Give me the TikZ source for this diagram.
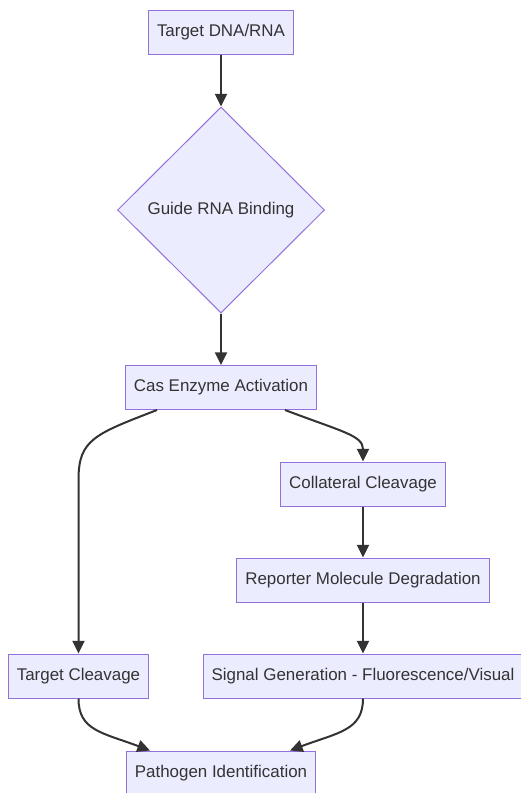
\documentclass[tikz,border=0pt]{standalone}
\usepackage{fontspec}
\setmainfont{Liberation Sans}
\usetikzlibrary{shapes.geometric,arrows.meta}

\newlength{\du}
\setlength{\du}{0.75pt}

\definecolor{boxfill}{HTML}{ECECFF}
\definecolor{boxline}{HTML}{9370DB}
\definecolor{inkcolor}{HTML}{333333}

\tikzset{
  box/.style={draw=boxline, fill=boxfill, line width=1\du, text=inkcolor,
    font=\fontsize{12.7pt}{15pt}\selectfont, inner xsep=8.5\du, inner ysep=0pt,
    minimum height=44\du},
  decision/.style={box, diamond, minimum width=207\du, minimum height=206\du, inner sep=0pt},
  edge/.style={draw=inkcolor, line width=2\du, -{Triangle[length=9.5pt,width=9pt]}},
}

\begin{document}
\begin{tikzpicture}[x=1\du, y=-1\du]
\useasboundingbox (0,0) rectangle (521,793);
% steps
\node[box] (target) at (221,32) {Target DNA/RNA};
\node[decision] (guide) at (221,210) {Guide RNA Binding};
\node[box] (cas) at (221,387.5) {Cas Enzyme Activation};
\node[box] (collateral) at (363,484) {Collateral Cleavage};
\node[box] (reporter) at (363,580) {Reporter Molecule Degradation};
\node[box] (cleavage) at (78.5,676) {Target Cleavage};
\node[box] (signal) at (363,676) {Signal Generation - Fluorescence/Visual};
\node[box] (pathogen) at (221,773) {Pathogen Identification};
% connectors
\draw[edge] (target) -- (guide);
\draw[edge] (guide) -- (cas);
\draw[edge] ([xshift=-64\du]cas.south) .. controls +(-62\du,-24\du) and +(0,40\du) .. ([yshift=174\du]cleavage.north) -- (cleavage.north);
\draw[edge] ([xshift=64\du]cas.south) .. controls +(58\du,-22\du) and +(0,26\du) .. (collateral.north);
\draw[edge] (collateral) -- (reporter);
\draw[edge] (reporter) -- (signal);
\draw[edge] (cleavage.south) .. controls +(0,-32\du) and +(-48\du,18\du) .. ([xshift=-71\du]pathogen.north);
\draw[edge] (signal.south) .. controls +(0,-32\du) and +(48\du,18\du) .. ([xshift=69\du]pathogen.north);
\end{tikzpicture}
\end{document}
